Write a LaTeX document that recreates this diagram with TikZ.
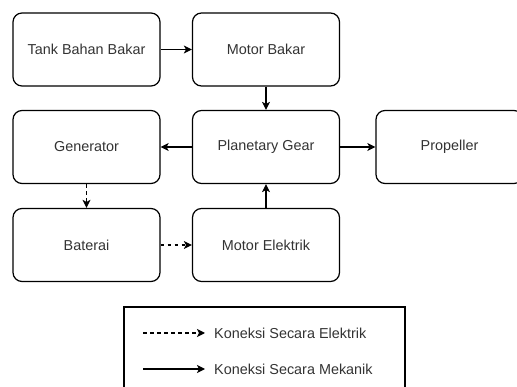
\documentclass[tikz,border=0pt]{standalone}
\usepackage{fontspec}
\setmainfont{Liberation Sans}
\usetikzlibrary{arrows.meta}
\definecolor{textgrey}{HTML}{333333}
\begin{document}
\begin{tikzpicture}[
    x=1pt,y=-1pt,
    every node/.style={font=\fontsize{14.4}{17}\selectfont, text=textgrey},
    block/.style={draw=black, rounded corners=9pt, line width=1.2pt, fill=white, minimum width=147pt, minimum height=73pt, inner sep=0pt},
    link/.style={line width=1.2pt, -{Stealth[length=8pt,width=8pt,inset=2pt]}},
    elec/.style={link, dash pattern=on 3.5pt off 3.5pt}
]
    \useasboundingbox (0,0) rectangle (517,387);

    \node[block] (tank)      at (86.5,49.5) {Tank Bahan Bakar};
    \node[block] (motorbkr)  at (266,49.5)  {Motor Bakar};
    \node[block] (generator) at (86.5,147)  {Generator};
    \node[block] (planetary) at (266,147)   {Planetary Gear};
    \node[block] (propeller) at (449.5,147) {Propeller};
    \node[block] (baterai)   at (86.5,245)  {Baterai};
    \node[block] (motorelk)  at (266,245)   {Motor Elektrik};

    \draw[link] (tank) -- (motorbkr);
    \draw[link] (motorbkr) -- (planetary);
    \draw[link] (planetary) -- (generator);
    \draw[link] (planetary) -- (propeller);
    \draw[link] (motorelk) -- (planetary);
    \draw[elec] (generator) -- (baterai);
    \draw[elec] (baterai) -- (motorelk);

    % legenda
    \draw[line width=1.2pt] (124,387) -- (124,307) -- (405,307) -- (405,387);
    \coordinate (elekA) at (143,333);
    \coordinate (elekB) at (205,333);
    \coordinate (mekA)  at (143,369);
    \coordinate (mekB)  at (205,369);
    \draw[elec] (elekA) -- (elekB);
    \draw[link] (mekA) -- (mekB);
    \node[anchor=west, inner sep=0pt] (legelek) at (214,333) {Koneksi Secara Elektrik};
    \node[anchor=west, inner sep=0pt] (legmek)  at (214,369) {Koneksi Secara Mekanik};
\end{tikzpicture}
\end{document}
